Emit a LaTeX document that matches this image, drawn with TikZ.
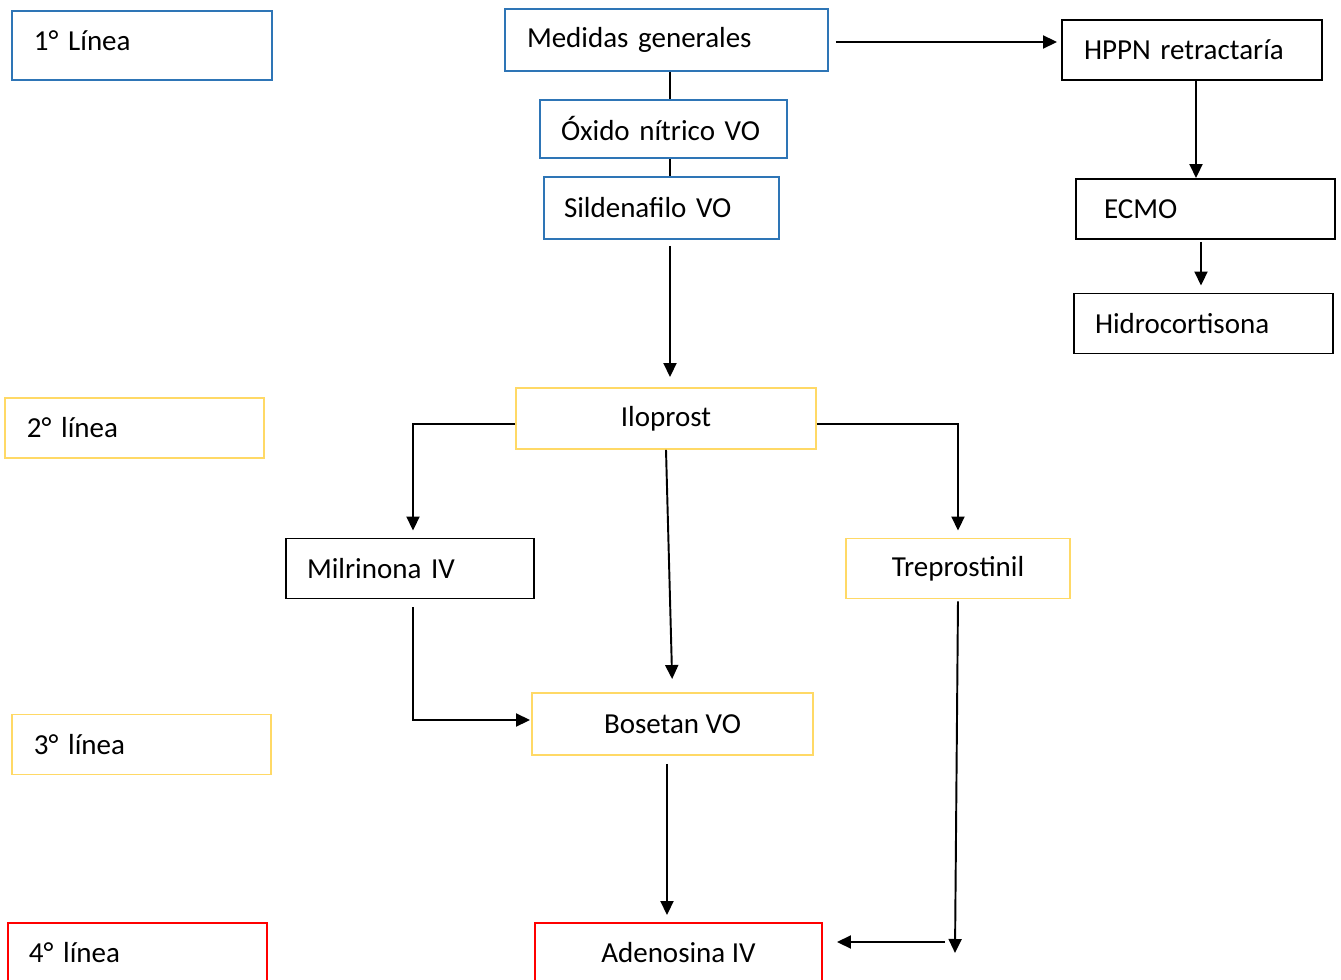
\documentclass[tikz,border=0pt]{standalone}
\usepackage{fontspec}
\setmainfont{Carlito}
\usepackage{tikz}
\usepackage{xcolor}
\usetikzlibrary{positioning, arrows.meta}
\definecolor{lnblue}{RGB}{46, 117, 182}
\definecolor{lnyellow}{RGB}{255, 217, 102}
\definecolor{lnred}{RGB}{255, 0, 0}
\tikzset{
    box/.style={draw, line width=1.1pt, minimum height=12mm, inner ysep=0pt, font=\fontsize{16.5}{20}\selectfont},
    bluebox/.style={box, draw=lnblue},
    yellowbox/.style={box, draw=lnyellow},
    redbox/.style={box, draw=lnred},
    blackbox/.style={box, draw=black},
    arr/.style={line width=1.1pt, -{Triangle[length=2.8mm, width=2.6mm]}},
    link/.style={line width=1.1pt}
}

\begin{document}
\begin{tikzpicture}[x=0.2mm, y=-0.2mm]
    \clip (0,0) rectangle (1341,980);
    % levels
    \node[bluebox, inner xsep=4.4mm, text width=43.2mm, minimum height=13.8mm, text depth=2mm] (l1) at (142,45.5) {1° Línea};
    \node[yellowbox, inner xsep=4.4mm, text width=43.0mm] (l2) at (134.5,428) {2° línea};
    \node[yellowbox, inner xsep=4.4mm, text width=43.0mm] (l3) at (141.5,744.5) {3° línea};
    \node[redbox, inner xsep=4.2mm, text width=43.4mm] (l4) at (137.5,953) {4° línea};
    % first line
    \node[bluebox, inner xsep=4.4mm, text width=55.8mm, minimum height=12.4mm] (med) at (666.5,40) {Medidas generales};
    \node[bluebox, inner xsep=4.2mm, text width=41.0mm, minimum height=11.6mm] (oxi) at (663.5,129) {Óxido nítrico VO};
    \node[bluebox, inner xsep=4.0mm, text width=39.0mm, minimum height=12.4mm] (sil) at (661.5,208) {Sildenafilo VO};
    \node[blackbox, inner xsep=4.4mm, text width=43.2mm] (hppn) at (1192,50) {HPPN retractaría};
    \node[blackbox, inner xsep=5.6mm, text width=40.6mm] (ecmo) at (1205.5,209) {ECMO};
    \node[blackbox, inner xsep=4.2mm, text width=43.4mm] (hidro) at (1203.5,323.5) {Hidrocortisona};
    % second line
    \node[yellowbox, minimum width=60mm, minimum height=12.2mm] (ilo) at (666,418.5) {Iloprost};
    \node[blackbox, inner xsep=4.2mm, text width=41.2mm] (mil) at (410,568.5) {Milrinona IV};
    \node[yellowbox, minimum width=44.8mm] (tre) at (958,568.5) {Treprostinil};
    % third and fourth line
    \node[yellowbox, minimum width=56.2mm, minimum height=12.4mm] (bos) at (672.5,724) {Bosetan VO};
    \node[redbox, minimum width=57.4mm] (ade) at (678.5,953) {Adenosina IV};

    \coordinate (spine) at (670,0);
    \coordinate (treend) at (955,953);
    \coordinate (adeend) at (945,942);

    \draw[arr, shorten <=1.4mm, shorten >=0.8mm] (med.east |- 0,42) -- (hppn.west |- 0,42);
    \draw[link] (spine |- med.south) -- (spine |- oxi.north);
    \draw[link] (spine |- oxi.south) -- (spine |- sil.north);
    \draw[arr, shorten <=1.2mm, shorten >=2mm] (spine |- sil.south) -- (spine |- ilo.north);
    \draw[arr] ([xshift=0.8mm]hppn.south) -- ([xshift=0.8mm]hppn.south |- ecmo.north);
    \draw[arr, shorten <=0.4mm, shorten >=1.4mm] ([xshift=-0.9mm]ecmo.south) -- ([xshift=-0.9mm]ecmo.south |- hidro.north);
    \draw[arr, shorten >=1.4mm] ([yshift=-1.1mm]ilo.west) -| ([xshift=0.6mm]mil.north);
    \draw[arr, shorten >=1.4mm] ([yshift=-1.1mm]ilo.east) -| (tre.north);
    \draw[arr, shorten >=2.6mm] (ilo.south) -- (bos.north);
    \draw[arr, shorten <=1.6mm, shorten >=0.2mm] ([xshift=0.6mm]mil.south) |- ([yshift=0.8mm]bos.west);
    \draw[arr, shorten <=1.6mm, shorten >=1.4mm] ([xshift=-1.1mm]bos.south) -- ([xshift=-1.1mm]bos.south |- ade.north);
    \draw[arr, shorten <=0.4mm] (tre.south) -- (treend);
    \draw[arr, shorten >=2.8mm] (adeend) -- (adeend -| ade.east);
\end{tikzpicture}
\end{document}
